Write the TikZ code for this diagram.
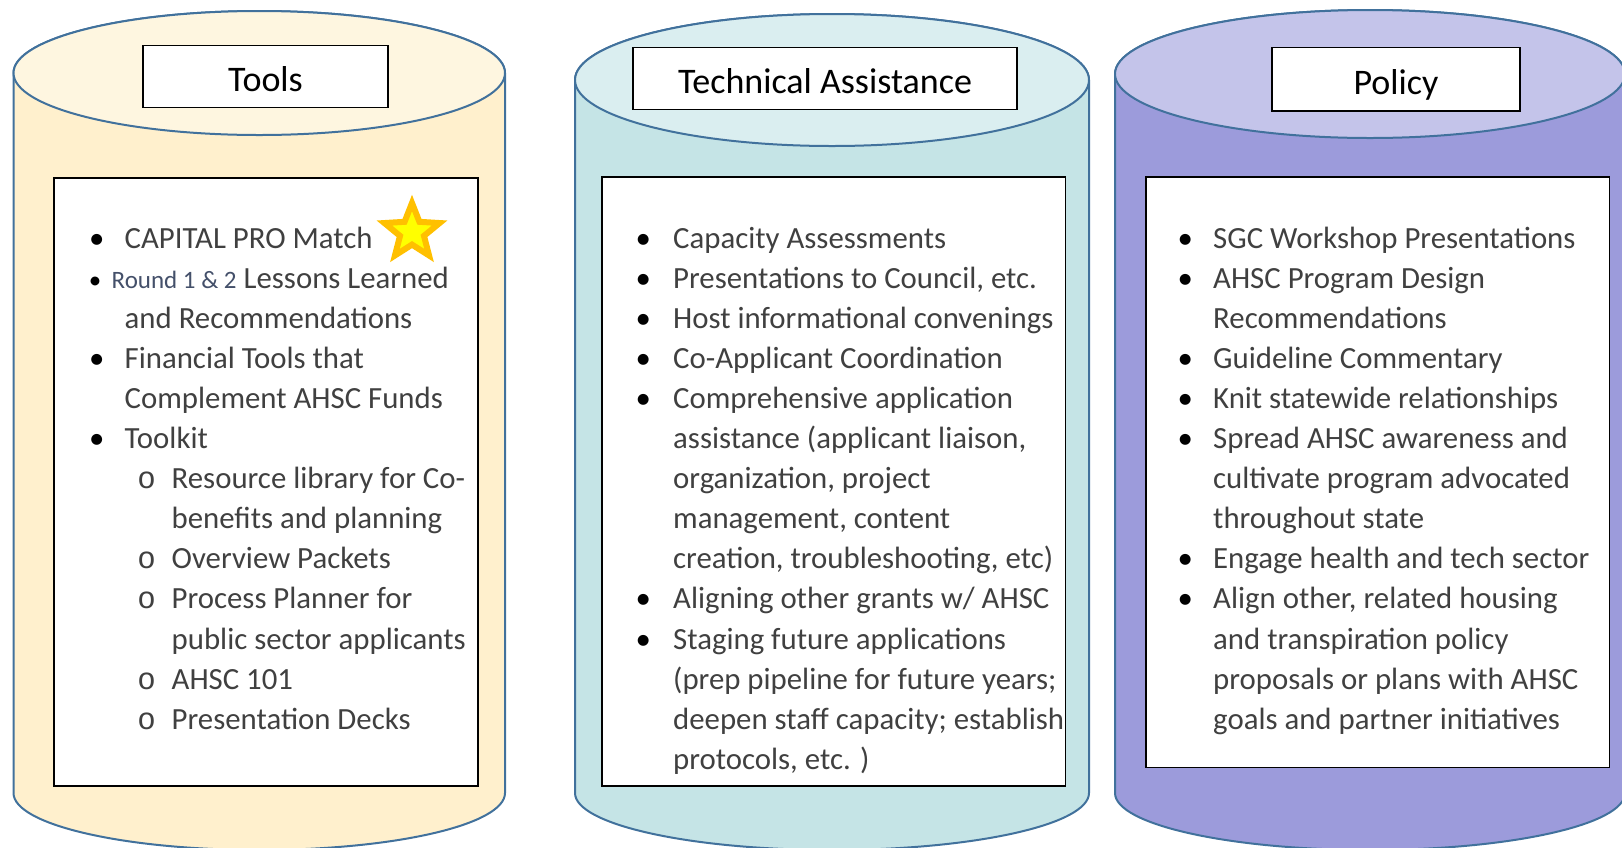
\documentclass[tikz,border=0pt]{standalone}
\usepackage{fontspec}
\setmainfont{Carlito}
\setmonofont{Liberation Mono}
\usetikzlibrary{shapes.geometric}
\definecolor{edgeblue}{HTML}{41719C}
\definecolor{toolsTop}{HTML}{FEF6E0}
\definecolor{toolsBody}{HTML}{FFF0CD}
\definecolor{taTop}{HTML}{DAEEF0}
\definecolor{taBody}{HTML}{C5E4E6}
\definecolor{polTop}{HTML}{C4C4EA}
\definecolor{polBody}{HTML}{9C9BDB}
\definecolor{txt}{HTML}{404040}
\definecolor{roundtxt}{HTML}{44506A}
\definecolor{starOrange}{HTML}{FFC000}
\definecolor{starYellow}{HTML}{FFFF00}
\newcommand{\bodyfont}{\fontsize{30.8}{40.1}\selectfont}
\newcommand{\itm}[2][56pt]{\hbox{\llap{\makebox[#1]{\color{black}•}}#2}}
\newcommand{\cnt}[1]{\hbox{#1}}
\newcommand{\subitm}[1]{\hbox{\kern47pt\llap{\makebox[50pt]{\ttfamily o}}#1}}
\newcommand{\subcnt}[1]{\hbox{\kern47pt #1}}
\newcommand{\colbox}[1]{\vtop{\baselineskip=40.1pt\lineskiplimit=-100pt\lineskip=0pt #1}}
\tikzset{
  cyl/.style={draw=edgeblue, line width=2pt},
  titlebox/.style={draw=black, fill=white, line width=1.5pt, inner sep=0pt,
    font=\fontsize{36}{42}\selectfont, text=black, text height=30pt, text depth=0pt},
  listbox/.style={draw=black, fill=white, line width=1.5pt, inner sep=0pt},
  listtext/.style={anchor=base west, inner sep=0pt, text=txt, font=\bodyfont},
}
\begin{document}
\begin{tikzpicture}[x=1pt,y=1pt]
\useasboundingbox (0,0) rectangle (1622,-847);
% ---------- Tools cylinder ----------
\path[cyl, fill=toolsBody] (13.5,-73) -- (13.5,-793)
  arc[start angle=180, end angle=360, x radius=245.75, y radius=57]
  -- (505,-73) arc[start angle=0, end angle=180, x radius=245.75, y radius=62] -- cycle;
\draw[cyl, fill=toolsTop] (259.25,-73) ellipse[x radius=245.75, y radius=62];
% ---------- TA cylinder ----------
\path[cyl, fill=taBody] (575,-80) -- (575,-793)
  arc[start angle=180, end angle=360, x radius=257, y radius=57]
  -- (1089,-80) arc[start angle=0, end angle=180, x radius=257, y radius=66] -- cycle;
\draw[cyl, fill=taTop] (832,-80) ellipse[x radius=257, y radius=66];
% ---------- Policy cylinder ----------
\path[cyl, fill=polBody] (1115,-74) -- (1115,-793)
  arc[start angle=180, end angle=360, x radius=255, y radius=57]
  -- (1625,-74) arc[start angle=0, end angle=180, x radius=255, y radius=64] -- cycle;
\draw[cyl, fill=polTop] (1370,-74) ellipse[x radius=255, y radius=64];
% ---------- title boxes ----------
\node[titlebox, minimum width=245, minimum height=62] (toolsT) at (265.5,-76.5) {Tools};
\node[titlebox, minimum width=384, minimum height=62] (taT) at (825,-78.6) {Technical Assistance};
\node[titlebox, minimum width=248, minimum height=63.5] (polT) at (1396,-79.3) {Policy};
% ---------- list boxes ----------
\node[listbox, minimum width=424, minimum height=608] (toolsB) at (266,-482) {};
\node[listbox, minimum width=463.5, minimum height=609] (taB) at (833.75,-481.5) {};
\node[listbox, minimum width=463.5, minimum height=590.5] (polB) at (1377.75,-472.25) {};
% ---------- lists ----------
\node[listtext] (toolsL) at (124.5,-248) {\colbox{%
  \itm{CAPITAL PRO Match}
  \hbox{\llap{\makebox[59pt]{\fontsize{25}{30}\selectfont\color{black}•}}\kern-13pt{\fontsize{25}{30}\selectfont\color{roundtxt}Round 1 \& 2} Lessons Learned}
  \cnt{and Recommendations}
  \itm{Financial Tools that}
  \cnt{Complement AHSC Funds}
  \itm{Toolkit}
  \subitm{Resource library for Co-}
  \subcnt{benefits and planning}
  \subitm{Overview Packets}
  \subitm{Process Planner for}
  \subcnt{public sector applicants}
  \subitm{AHSC 101}
  \subitm{Presentation Decks}}};
\node[star, star points=5, star point ratio=2.3, minimum size=58, inner sep=0pt,
  fill=starYellow, draw=starOrange, line width=6pt] (star) at (412,-232) {};
\node[listtext] (taL) at (673,-248) {\colbox{%
  \itm[60pt]{Capacity Assessments}
  \itm[60pt]{Presentations to Council, etc.}
  \itm[60pt]{Host informational convenings}
  \itm[60pt]{Co-Applicant Coordination}
  \itm[60pt]{Comprehensive application}
  \cnt{assistance (applicant liaison,}
  \cnt{organization, project}
  \cnt{management, content}
  \cnt{creation, troubleshooting, etc)}
  \itm[60pt]{Aligning other grants w/ AHSC}
  \itm[60pt]{Staging future applications}
  \cnt{(prep pipeline for future years;}
  \cnt{deepen staff capacity; establish}
  \cnt{protocols, etc. )}}};
\node[listtext] (polL) at (1213,-248) {\colbox{%
  \itm{SGC Workshop Presentations}
  \itm{AHSC Program Design}
  \cnt{Recommendations}
  \itm{Guideline Commentary}
  \itm{Knit statewide relationships}
  \itm{Spread AHSC awareness and}
  \cnt{cultivate program advocated}
  \cnt{throughout state}
  \itm{Engage health and tech sector}
  \itm{Align other, related housing}
  \cnt{and transpiration policy}
  \cnt{proposals or plans with AHSC}
  \cnt{goals and partner initiatives}}};
\end{tikzpicture}
\end{document}
